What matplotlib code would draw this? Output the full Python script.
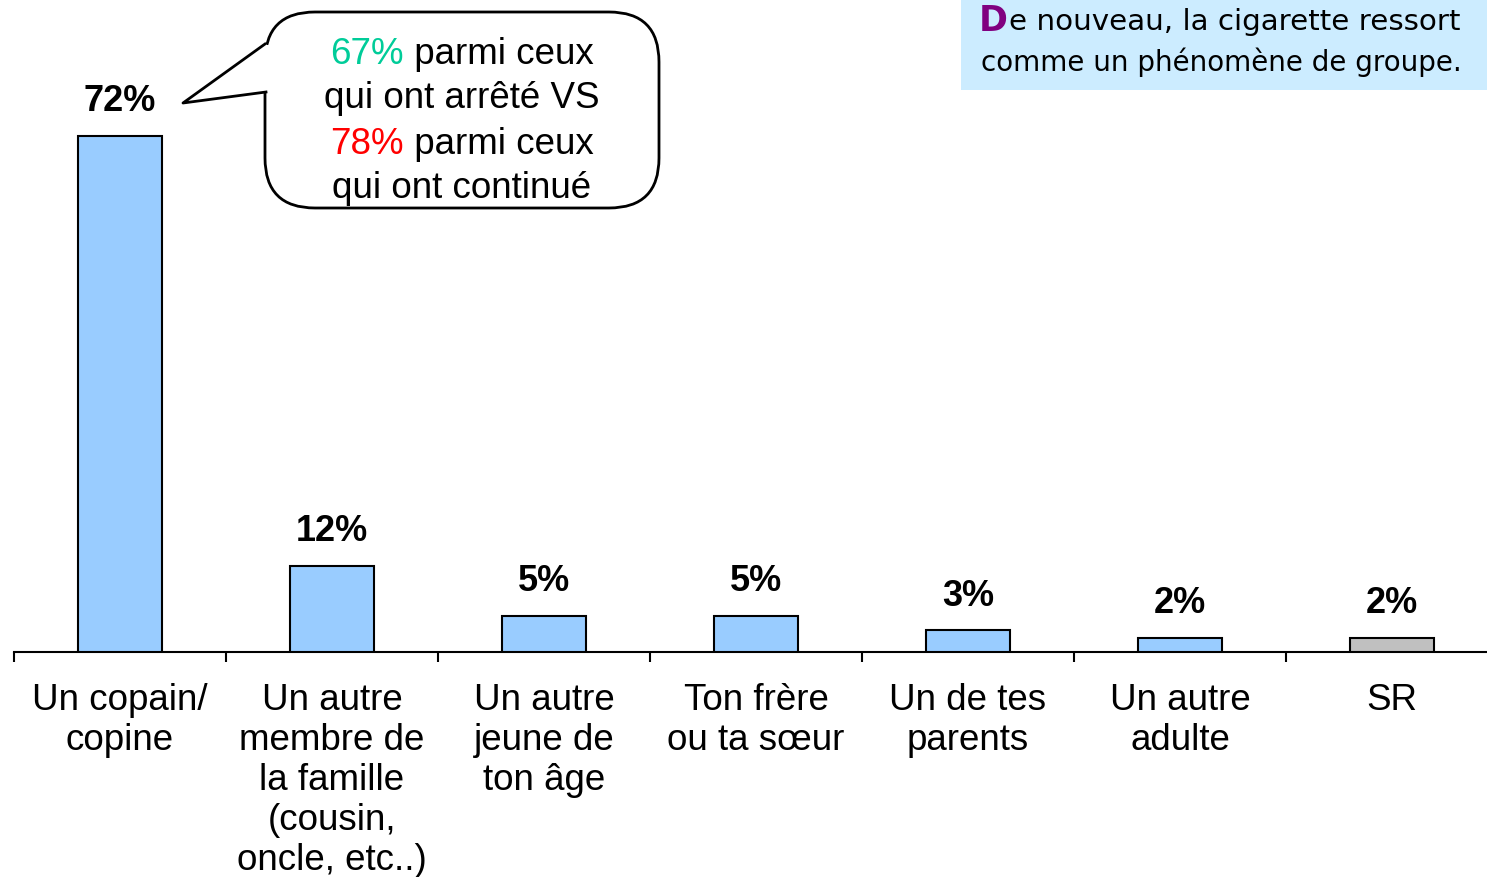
import matplotlib
matplotlib.use("Agg")
import matplotlib.pyplot as plt
from matplotlib.patches import FancyBboxPatch, Polygon, Rectangle
import numpy as np

categories = ["Un copain/\ncopine",
              "Un autre\nmembre de\nla famille\n(cousin,\noncle, etc..)",
              "Un autre\njeune de\nton âge",
              "Ton frère\nou ta sœur",
              "Un de tes\nparents",
              "Un autre\nadulte",
              "SR"]
values = [72, 12, 5, 5, 3, 2, 2]
value_labels = ["72%", "12%", "5%", "5%", "3%", "2%", "2%"]
bar_colors = ["#99CCFF"] * 6 + ["#C0C0C0"]

W, H = 1487, 877
fig = plt.figure(figsize=(W / 100, H / 100), dpi=100)
plt.rcParams['font.family'] = ['Liberation Sans', 'DejaVu Sans']

def px(x0, y0, x1, y1):
    return [x0 / W, 1 - y1 / H, (x1 - x0) / W, (y1 - y0) / H]

ymax = 80
top_px = 652 - ymax * 7.17
ax = fig.add_axes(px(14, top_px, 14 + 7 * 212, 652))
x = np.arange(len(categories))
ax.bar(x, values, width=0.4, color=bar_colors, edgecolor="black", linewidth=1.5, zorder=3)
ax.set_xlim(-0.5, len(categories) - 0.5)
ax.set_ylim(0, ymax)
for s in ["top", "right", "left"]:
    ax.spines[s].set_visible(False)
ax.spines["bottom"].set_linewidth(1.5)
ax.set_yticks([])
ax.set_xticks(np.arange(-0.5, len(categories) + 0.5, 1.0))
ax.set_xticklabels([])
ax.tick_params(axis="x", which="major", length=7, width=1.5, direction="out")
ax.set_xticks(x, minor=True)
ax.set_xticklabels(categories, minor=True, fontsize=26.5, linespacing=1.19)
ax.tick_params(axis="x", which="minor", length=0, pad=22)

for xi, v, lab in zip(x, values, value_labels):
    ax.annotate(lab, (xi, v), xytext=(0, 12), textcoords="offset points",
                ha="center", va="bottom", fontsize=26, fontweight="bold")

# overlay in pixel coords
ov = fig.add_axes([0, 0, 1, 1], zorder=5)
ov.set_xlim(0, W)
ov.set_ylim(H, 0)
ov.axis("off")
ov.patch.set_alpha(0)

# callout
box = FancyBboxPatch((265, 12), 394, 196,
                     boxstyle="round,pad=0,rounding_size=50",
                     facecolor="white", edgecolor="black", linewidth=2)
ov.add_patch(box)
ov.add_patch(Polygon([(267, 44), (183, 103), (268, 92)], closed=True,
                     facecolor="white", edgecolor="none", zorder=3))
ov.add_patch(Rectangle((262, 45), 8, 46, facecolor="white", edgecolor="none", zorder=3))
ov.plot([265, 183, 266], [44, 103, 92], color="black", lw=2, zorder=4)

lines = [[("67%", "#00CC99"), (" parmi ceux", "black")],
         [("qui ont arrêté VS", "black")],
         [("78%", "#FF0000"), (" parmi ceux", "black")],
         [("qui ont continué", "black")]]
ys = [54, 99, 144, 188]
fig.canvas.draw()
r = fig.canvas.get_renderer()

def width_of(t, **kw):
    tt = ov.text(0, 0, t, **kw)
    w = tt.get_window_extent(renderer=r).width
    tt.remove()
    return w

for parts, yy in zip(lines, ys):
    widths = [width_of(t, fontsize=26.5) for t, c in parts]
    total = sum(widths)
    xs = 462 - total / 2
    for (t, c), w in zip(parts, widths):
        ov.text(xs, yy, t, fontsize=26.5, color=c, ha="left", va="center", zorder=6)
        xs += w

# top-right box
ov.add_patch(Rectangle((961, 0), W - 961, 90, facecolor="#CCECFF", edgecolor="none", zorder=1))
dkw = dict(fontsize=25, fontweight="bold", family="DejaVu Sans")
dw = width_of("D", **dkw)
ov.text(979, 21, "D", color="#800080", va="center", ha="left", zorder=6, **dkw)
ov.text(979 + dw + 1, 22, "e nouveau, la cigarette ressort", fontsize=21.2, va="center", ha="left",
        family="DejaVu Sans", zorder=6)
ov.text(981, 62, "comme un phénomène de groupe.", fontsize=20, va="center", ha="left",
        family="DejaVu Sans", zorder=6)

fig.savefig("out.png", dpi=100)
